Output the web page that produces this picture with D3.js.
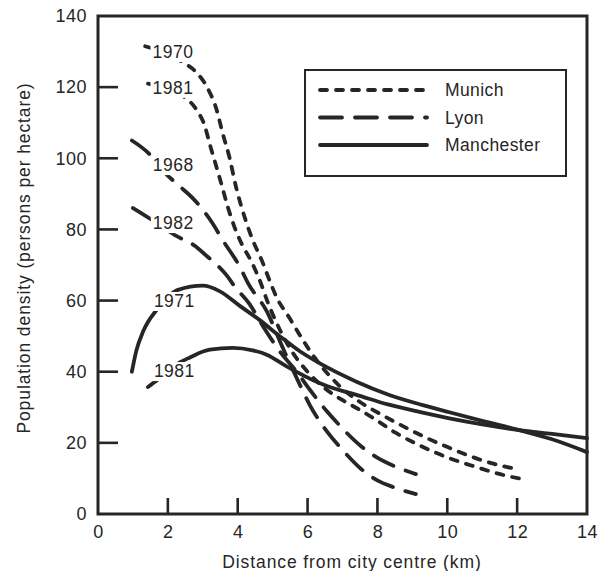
<!DOCTYPE html>
<html><head><meta charset="utf-8">
<script src="https://cdn.jsdelivr.net/npm/d3@7"></script>
<style>body{margin:0;background:#fff}svg{display:block}</style></head>
<body><svg id="c" width="603" height="571"></svg>
<script>
// ---- data ----
const xTicks = [0, 2, 4, 6, 8, 10, 12, 14];
const yTicks = [0, 20, 40, 60, 80, 100, 120, 140];
const cities = ["Munich", "Lyon", "Manchester"];

const munich1970 = [[1.35,131.5],[2.43,127],[2.83,124],[3.14,119.7],[3.4,113.5],[3.57,107],[3.77,100],[3.95,92],[4.2,83.4],[4.43,77],[4.69,71.3],[4.91,65.7],[5.11,61],[5.49,55],[5.86,49],[6.2,44],[6.6,39.2],[7.0,35.2],[7.5,31.5],[8.14,27.8],[8.77,24.5],[9.34,21.7],[10.06,18.6],[10.7,16.1],[11.26,14.3],[12.05,12.5]];
const munich1981 = [[1.43,121],[2.5,117],[2.83,113.5],[3.06,109],[3.2,104],[3.36,98.6],[3.54,92.5],[3.71,86.5],[3.91,80.6],[4.11,76],[4.4,70.8],[4.63,65.7],[4.86,59.5],[5.1,54],[5.5,46.5],[6.0,40],[6.5,35.3],[7.0,32],[7.4,29.8],[7.97,26.4],[8.49,23],[9.06,20],[9.63,17.4],[10.2,15.2],[10.83,13.2],[11.43,11.4],[12.05,10]];
const lyon1968 = [[0.97,105],[1.49,101],[1.86,96.5],[2.4,91.6],[2.69,89],[3.26,82],[3.57,77],[4.06,69.5],[4.29,65],[4.83,57],[5.3,46.5],[5.7,38],[6.06,30.7],[6.57,23],[7.0,18],[7.54,12.6],[7.97,9.6],[8.5,7.4],[9.1,5.6]];
const lyon1982 = [[1.0,86],[1.49,83],[2.2,78.4],[2.77,75.4],[3.06,73],[3.69,67],[3.91,64],[4.34,59],[4.71,53],[5.26,45],[5.69,40],[6.06,35],[6.54,29],[6.86,25.5],[7.54,19],[7.97,16],[8.5,13.4],[9.1,11.2]];
const manchester1971 = [[0.97,40],[1.1,46],[1.3,51.5],[1.69,57.5],[2.29,63],[3.0,64.2],[3.49,62.6],[4.06,58.5],[4.63,54.5],[5.2,50],[5.8,45.6],[6.34,42.4],[7.4,37.2],[8.3,33.6],[9.3,30.6],[10.06,28.6],[11.0,26.2],[12.06,23.6],[13.0,21],[14.0,17.4]];
const manchester1981 = [[1.43,35.7],[1.69,37.6],[2.2,41.8],[2.63,44],[3.2,46.2],[3.86,46.7],[4.43,46],[4.83,44.8],[5.4,41.5],[6.34,36.8],[6.63,35.7],[7.4,33.5],[8.3,30.8],[9.2,28.7],[10.06,26.9],[11.0,25.2],[12.06,23.6],[13.0,22.5],[14.0,21.3]];

const series = [
  {city:"Munich", year:"1970", values:munich1970},
  {city:"Munich", year:"1981", values:munich1981},
  {city:"Lyon", year:"1968", values:lyon1968},
  {city:"Lyon", year:"1982", values:lyon1982},
  {city:"Manchester", year:"1971", values:manchester1971},
  {city:"Manchester", year:"1981", values:manchester1981}
];
// year-label anchors (km, density)
const yearLabels = [
  {text:"1970", x:1.56, y:128.2},
  {text:"1981", x:1.56, y:118.1},
  {text:"1968", x:1.57, y:96.4},
  {text:"1982", x:1.57, y:80.1},
  {text:"1971", x:1.6, y:58.2},
  {text:"1981", x:1.6, y:38.5}
];

// ---- styles ----
const ink = "#262626";
const dash = {Munich:"7,9", Lyon:"22,13", Manchester:null};
const font = "'Liberation Sans', Arial, Helvetica, sans-serif";

const svg = d3.select("#c");
const L = 98, R = 587, T = 16, B = 514;
const x = d3.scaleLinear().domain([0,14]).range([L,R]);
const y = d3.scaleLinear().domain([0,140]).range([B,T]);

// frame
svg.append("path")
  .attr("d", `M${L},${T}H${R}V${B}H${L}Z`)
  .attr("fill","none").attr("stroke",ink).attr("stroke-width",3);

// axes (labels)
const yAxis = d3.axisLeft(y).tickValues(yTicks).tickSize(0).tickPadding(11);
const xAxis = d3.axisBottom(x).tickValues(xTicks).tickSize(0).tickPadding(11);
const gy = svg.append("g").attr("transform",`translate(${L},0)`).call(yAxis);
const gx = svg.append("g").attr("transform",`translate(0,${B})`).call(xAxis);
[gx, gy].forEach(g => {
  g.select(".domain").remove();
  g.selectAll(".tick line").remove();
  g.selectAll(".tick text").attr("fill", ink).style("font-family", font).style("font-size","18px").style("letter-spacing","0.5px");
});

// lines
const line = d3.line().x(d=>x(d[0])).y(d=>y(d[1])).curve(d3.curveMonotoneX);
svg.append("g").selectAll("path").data(series).join("path")
  .attr("d", d=>line(d.values))
  .attr("fill","none").attr("stroke",ink).attr("stroke-width",3.8)
  .attr("stroke-linecap","round")
  .attr("stroke-dasharray", d=>dash[d.city]);

// inward tick marks
svg.append("g").selectAll("rect").data(yTicks.filter(v => v > 0 && v < 140)).join("rect")
  .attr("x", L).attr("y", d => y(d) - 1.3).attr("width", 20).attr("height", 2.6).attr("fill", ink);
svg.append("g").selectAll("rect").data(xTicks.filter(v => v > 0 && v < 14)).join("rect")
  .attr("x", d => x(d) - 1.3).attr("y", B - 16).attr("width", 2.6).attr("height", 16).attr("fill", ink);

// year labels with white masks
const lg = svg.append("g");
yearLabels.forEach(l => {
  const g = lg.append("g");
  const t = g.append("text").attr("x", x(l.x)).attr("y", y(l.y))
    .attr("fill", ink).style("font-family", font).style("font-size","17.5px").style("letter-spacing","0.5px")
    .text(l.text);
  const bb = t.node().getBBox();
  g.insert("rect","text").attr("x",bb.x-2).attr("y",bb.y+1).attr("width",bb.width+3).attr("height",bb.height-1).attr("fill","#fff");
});

// legend
const leg = svg.append("g");
leg.append("rect").attr("x",305).attr("y",70).attr("width",261).attr("height",106)
  .attr("fill","#fff").attr("stroke",ink).attr("stroke-width",2);
cities.forEach((c,i) => {
  const yy = 90 + i*27.5;
  leg.append("line").attr("x1",320).attr("x2",427).attr("y1",yy).attr("y2",yy)
    .attr("stroke",ink).attr("stroke-width",3.8).attr("stroke-linecap","round")
    .attr("stroke-dasharray", dash[c]);
  leg.append("text").attr("x",445).attr("y",yy+6).text(c)
    .attr("fill",ink).style("font-family",font).style("font-size","17.5px").style("letter-spacing","0.4px");
});

// axis titles
svg.append("text").attr("x",352).attr("y",568).attr("text-anchor","middle")
  .attr("fill",ink).style("font-family",font).style("font-size","17.5px").style("letter-spacing","0.9px")
  .text("Distance from city centre (km)");
svg.append("text").attr("transform","translate(30,258) rotate(-90)").attr("text-anchor","middle")
  .attr("fill",ink).style("font-family",font).style("font-size","17.5px").style("letter-spacing","0.9px")
  .text("Population density (persons per hectare)");
</script></body></html>
